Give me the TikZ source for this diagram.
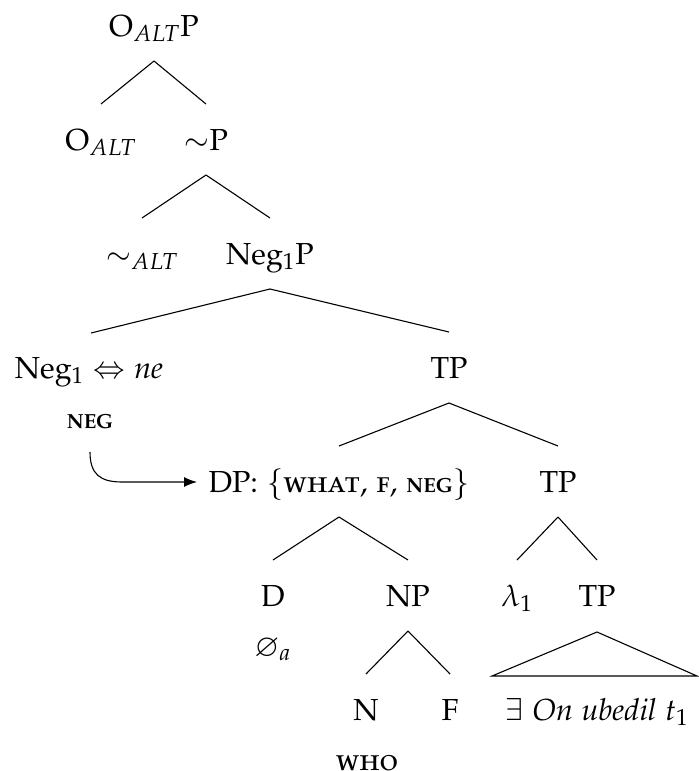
\documentclass[tikz,border=0pt]{standalone}
\usepackage[T1]{fontenc}
\usepackage[sc]{mathpazo}
\usepackage{amssymb}
\usetikzlibrary{calc,arrows.meta}
\tikzset{
  lbl/.style={anchor=base, inner sep=0pt, font=\fontsize{15.2}{18}\selectfont},
  edge/.style={line width=0.55pt},
  movearrow/.style={line width=0.55pt, -{Latex[length=6.5pt,width=5pt]}}
}
\newcommand\bsc[1]{{\bfseries\fontsize{10.2}{12}\selectfont #1}}
\newcommand\branch[2]{\draw[edge] ($(#1.base)+(0,25)$) -- ($(#2.base)+(0,-46)$);}
\begin{document}
\begin{tikzpicture}[x=0.5pt,y=-0.5pt]
\useasboundingbox (0,0) rectangle (698,771);
\node[lbl] (top) at (154,36) {O$_{ALT}$P};
\node[lbl] (oalt) at (101,150) {O$_{ALT}$};
\node[lbl] (simp) at (206,150) {$\sim$P};
\node[lbl] (simalt) at (142,264) {$\sim_{ALT}$};
\node[lbl] (neg1p) at (270,264) {Neg$_1$P};
\node[lbl] (neg1) at (89,378) {Neg$_1$ $\Leftrightarrow$ \textit{ne}};
\node[lbl] (tp1) at (449,378) {TP};
\node[lbl] (negf) at (90,428) {\bsc{NEG}};
\node[lbl] (dp) at (339,492) {DP: $\{$\textsc{what}, \textsc{f}, \bsc{NEG}$\}$};
\node[lbl] (tp2) at (558,492) {TP};
\node[lbl] (d) at (273,606) {D};
\node[lbl] (np) at (408,606) {NP};
\node[lbl] (lam) at (517,606) {$\lambda_1$};
\node[lbl] (tp3) at (597,606) {TP};
\node[lbl] (emp) at (273,656) {$\varnothing_a$};
\node[lbl] (n) at (366,720) {N};
\node[lbl] (f) at (450,720) {F};
\node[lbl] (ex) at (597,720) {$\exists$ \textit{On ubedil} $t_1$};
\node[lbl] (who) at (367,770) {\textsc{who}};
\branch{top}{oalt}
\branch{top}{simp}
\branch{simp}{simalt}
\branch{simp}{neg1p}
\draw[edge] ($(neg1p.base)+(0,25)$) -- ($(neg1.base)+(2,-45)$);
\branch{neg1p}{tp1}
\branch{tp1}{dp}
\branch{tp1}{tp2}
\branch{dp}{d}
\branch{dp}{np}
\branch{tp2}{lam}
\branch{tp2}{tp3}
\branch{np}{n}
\branch{np}{f}
\coordinate (triL) at ($(ex.base)+(-105,-44)$);
\coordinate (triR) at ($(ex.base)+(100,-44)$);
\draw[edge] (triL) -- ($(tp3.base)+(0,26)$) -- (triR) -- cycle;
\coordinate (as) at ($(negf.base)+(0,24)$);
\coordinate (ae) at ($(dp.base)+(-142,-10)$);
\coordinate (mid) at ($(as |- ae)+(32,0)$);
\draw[movearrow] (as) .. controls ($(as)+(0,22)$) and ($(mid)+(-22,0)$) .. (mid) -- (ae);
\end{tikzpicture}
\end{document}
